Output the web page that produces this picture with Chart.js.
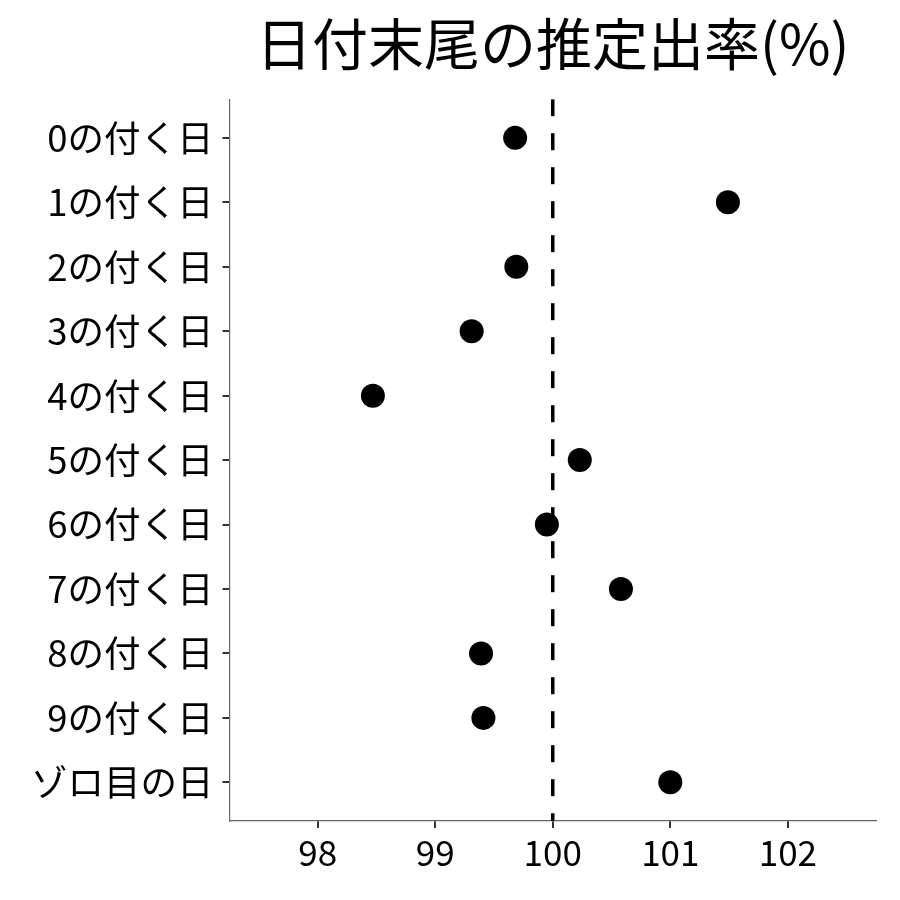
<!DOCTYPE html>
<html>
<head>
<meta charset="utf-8">
<script src="https://cdn.jsdelivr.net/npm/chart.js@4/dist/chart.umd.min.js"></script>
<style>
  body { margin: 0; background: #fff; }
</style>
</head>
<body>
<canvas id="grafico" width="900" height="900"></canvas>
<script>
const categorias = ["0の付く日", "1の付く日", "2の付く日", "3の付く日", "4の付く日", "5の付く日",
    "6の付く日", "7の付く日", "8の付く日", "9の付く日", "ゾロ目の日"];
const valores = [99.68, 101.49, 99.69, 99.31, 98.47, 100.23, 99.95, 100.58, 99.39, 99.41, 101.0];
const ticksX = [98, 99, 100, 101, 102];
const referencia = 100;

const fuente = "'Noto Sans CJK JP', 'Noto Sans', sans-serif";

new Chart(document.querySelector("#grafico").getContext("2d"), {
    type: "scatter",
    data: {
        datasets: [
            {
                data: valores.map((v, i) => ({ x: v, y: i })),
                backgroundColor: "#000",
                borderWidth: 0,
                pointRadius: 12,
                pointHoverRadius: 12,
            },
            {
                type: "line",
                data: [{ x: referencia, y: -0.6 }, { x: referencia, y: categorias.length - 0.4 }],
                borderColor: "#000",
                borderWidth: 3.5,
                borderDash: [17, 17],
                pointRadius: 0,
                fill: false,
            },
        ],
    },
    options: {
        responsive: false,
        animation: false,
        layout: { padding: { left: 22, right: 24, bottom: 22, top: 0 } },
        plugins: {
            legend: { display: false },
            tooltip: { enabled: false },
            title: {
                display: true,
                text: "日付末尾の推定出率(%)",
                fullSize: false,
                color: "#000",
                font: { family: fuente, size: 56, weight: "normal" },
                padding: { top: 10, bottom: 22 },
            },
        },
        scales: {
            x: {
                type: "linear",
                min: 97.25,
                max: 102.75,
                afterBuildTicks: (escala) => { escala.ticks = ticksX.map((v) => ({ value: v })); },
                grid: { drawOnChartArea: false, drawTicks: true, tickLength: 7, color: "#333", lineWidth: 2 },
                border: { display: true, color: "#666", width: 1.2 },
                ticks: { color: "#000", font: { family: fuente, size: 35 }, padding: 4 },
            },
            y: {
                type: "linear",
                reverse: true,
                min: -0.6,
                max: categorias.length - 0.4,
                afterBuildTicks: (escala) => { escala.ticks = categorias.map((c, i) => ({ value: i })); },
                grid: { drawOnChartArea: false, drawTicks: true, tickLength: 7, color: "#333", lineWidth: 2 },
                border: { display: true, color: "#666", width: 1.2 },
                ticks: {
                    color: "#000",
                    font: { family: fuente, size: 36.5 },
                    padding: 9,
                    callback: (valor) => categorias[valor],
                },
            },
        },
    },
});
</script>
</body>
</html>
